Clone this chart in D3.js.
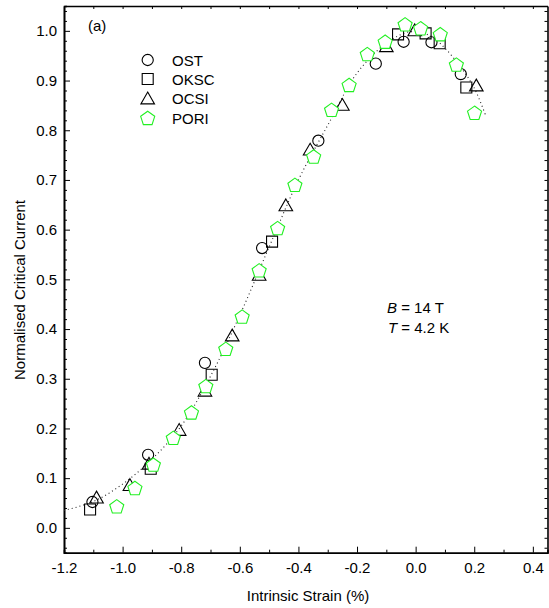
<!DOCTYPE html>
<html>
<head>
<meta charset="utf-8">
<script src="https://cdn.jsdelivr.net/npm/d3@7"></script>
<style>
  body { margin: 0; background: #fff; }
  svg { display: block; font-family: "Liberation Sans", Arial, sans-serif; }
  .axis path, .axis line { stroke: #000; }
  .axis text { font-size: 15px; fill: #000; }
</style>
</head>
<body>
<svg id="chart" width="549" height="608"></svg>
<script>
// values
var ostStrain = [-1.103, -0.913, -0.719, -0.524, -0.332, -0.136, -0.041, 0.054, 0.154];
var ostIc     = [0.052, 0.147, 0.332, 0.563, 0.779, 0.934, 0.978, 0.977, 0.913];

var okscStrain = [-1.111, -0.904, -0.696, -0.490, -0.060, 0.034, 0.082, 0.173];
var okscIc     = [0.037, 0.119, 0.308, 0.576, 0.993, 0.995, 0.975, 0.886];

var ocsiStrain = [-1.089, -0.975, -0.91, -0.807, -0.719, -0.626, -0.534, -0.443, -0.36, -0.25, -0.10, -0.003, 0.207];
var ocsiIc     = [0.062, 0.087, 0.13, 0.198, 0.277, 0.388, 0.510, 0.650, 0.762, 0.852, 0.970, 1.002, 0.891];

var poriStrain = [-1.020, -0.958, -0.895, -0.827, -0.765, -0.716, -0.648, -0.592, -0.534, -0.471, -0.412,
                  -0.348, -0.287, -0.227, -0.165, -0.104, -0.036, 0.017, 0.084, 0.139, 0.201];
var poriIc     = [0.043, 0.080, 0.127, 0.181, 0.232, 0.285, 0.360, 0.425, 0.518, 0.603, 0.690,
                  0.747, 0.841, 0.891, 0.953, 0.978, 1.013, 1.005, 0.993, 0.932, 0.835];

// dotted fit line
var fitStrain = [-1.2, -1.1, -1.0, -0.9, -0.8, -0.7, -0.6, -0.5, -0.4, -0.3, -0.2, -0.1, -0.02, 0.05, 0.1, 0.15, 0.2, 0.24];
var fitIc     = [0.035, 0.053, 0.088, 0.138, 0.205, 0.305, 0.428, 0.565, 0.70, 0.81, 0.915, 0.975, 0.998, 0.99, 0.965, 0.93, 0.885, 0.828];

var xTicks = [-1.2, -1.0, -0.8, -0.6, -0.4, -0.2, 0.0, 0.2, 0.4];
var xMinor = [-1.1, -0.9, -0.7, -0.5, -0.3, -0.1, 0.1, 0.3];
var yTicks = [0.0, 0.1, 0.2, 0.3, 0.4, 0.5, 0.6, 0.7, 0.8, 0.9, 1.0];
var yMinor = d3.range(-2, 53).filter(function(i) { return i % 5 != 0; }).map(function(i) { return i * 0.02; });

var seriesNames = ['OST', 'OKSC', 'OCSI', 'PORI'];

var svg = d3.select('#chart');
var plotL = 64, plotR = 547.5, plotT = 6, plotB = 552.7;

var xScale = d3.scaleLinear().domain([-1.2, 0.45]).range([plotL, plotR]);
var yScale = d3.scaleLinear().domain([-0.05, 1.05]).range([plotB, plotT]);

var fmt = function(d) { return d3.format('.1f')(d).replace('\u2212', '-'); };

// axes, ticks pointing inward
svg.append('g').attr('class', 'axis').attr('transform', 'translate(0,' + plotB + ')')
  .call(d3.axisBottom(xScale).tickValues(xMinor).tickSize(-3).tickFormat(''));
svg.append('g').attr('class', 'axis').attr('transform', 'translate(0,' + plotB + ')')
  .call(d3.axisBottom(xScale).tickValues(xTicks).tickSize(-6).tickSizeOuter(0).tickPadding(10).tickFormat(fmt));
svg.append('g').attr('class', 'axis').attr('transform', 'translate(0,' + plotT + ')')
  .call(d3.axisTop(xScale).tickValues(xTicks.concat(xMinor)).tickSize(-3).tickSizeOuter(0).tickFormat(''));

svg.append('g').attr('class', 'axis').attr('transform', 'translate(' + plotL + ',0)')
  .call(d3.axisLeft(yScale).tickValues(yMinor).tickSize(-3).tickFormat(''));
svg.append('g').attr('class', 'axis').attr('transform', 'translate(' + plotL + ',0)')
  .call(d3.axisLeft(yScale).tickValues(yTicks).tickSize(-6).tickSizeOuter(0).tickPadding(7).tickFormat(fmt));
svg.append('g').attr('class', 'axis').attr('transform', 'translate(' + plotR + ',0)')
  .call(d3.axisRight(yScale).tickValues(yTicks.concat(yMinor)).tickSize(-3).tickSizeOuter(0).tickFormat(''));

svg.selectAll('.axis path').attr('stroke-width', 1.6);

// axis titles
svg.append('text').attr('x', 308).attr('y', 601).attr('text-anchor', 'middle')
  .style('font-size', '15px').text('Intrinsic Strain (%)');
svg.append('text').attr('transform', 'translate(24.5,290) rotate(-90)').attr('text-anchor', 'middle')
  .style('font-size', '15px').text('Normalised Critical Current');

svg.append('text').attr('x', 88).attr('y', 31).style('font-size', '15px').text('(a)');

// fit line
var fitLine = d3.line()
  .x(function(d, i) { return xScale(fitStrain[i]); })
  .y(function(d, i) { return yScale(fitIc[i]); })
  .curve(d3.curveCatmullRom);
svg.append('path').datum(fitStrain).attr('d', fitLine)
  .attr('fill', 'none').attr('stroke', '#222').attr('stroke-width', 1.1)
  .attr('stroke-dasharray', '1,3');

// marker shapes
var triangle = { draw: function(ctx, size) {
  var w = 6.8, h = 5.9;
  ctx.moveTo(0, -h); ctx.lineTo(w, h); ctx.lineTo(-w, h); ctx.closePath();
} };
var pentagon = { draw: function(ctx, size) {
  var r = 7.4;
  for (var k = 0; k < 5; k++) {
    var a = -Math.PI / 2 + k * 2 * Math.PI / 5;
    if (k == 0) ctx.moveTo(r * Math.cos(a), r * Math.sin(a) + 0.6);
    else ctx.lineTo(r * Math.cos(a), r * Math.sin(a) + 0.6);
  }
  ctx.closePath();
} };

var symbols = [
  d3.symbol().type(d3.symbolCircle).size(98),
  d3.symbol().type(d3.symbolSquare).size(121),
  d3.symbol().type(triangle),
  d3.symbol().type(pentagon)
];
var colours = ['#000', '#000', '#000', '#22f022'];
var fills = ['none', 'none', 'none', '#fff'];
var strains = [ostStrain, okscStrain, ocsiStrain, poriStrain];
var values = [ostIc, okscIc, ocsiIc, poriIc];

strains.forEach(function(xs, s) {
  svg.append('g').selectAll('path').data(xs).enter().append('path')
    .attr('d', symbols[s])
    .attr('transform', function(d, i) { return 'translate(' + xScale(d) + ',' + yScale(values[s][i]) + ')'; })
    .attr('fill', fills[s]).attr('stroke', colours[s]).attr('stroke-width', 1.1);
});

// legend
var legendY = [60, 79, 98, 118];
var legend = svg.append('g');
seriesNames.forEach(function(name, s) {
  legend.append('path').attr('d', symbols[s])
    .attr('transform', 'translate(147.7,' + legendY[s] + ')')
    .attr('fill', fills[s]).attr('stroke', colours[s]).attr('stroke-width', 1.1);
  legend.append('text').attr('x', 172).attr('y', legendY[s] + 5.5)
    .style('font-size', '15px').text(name);
});

// conditions
var note = svg.append('g').style('font-size', '15px');
var t1 = note.append('text').attr('x', 387).attr('y', 313);
t1.append('tspan').style('font-style', 'italic').text('B');
t1.append('tspan').text(' = 14 T');
var t2 = note.append('text').attr('x', 388).attr('y', 333);
t2.append('tspan').style('font-style', 'italic').text('T');
t2.append('tspan').text(' = 4.2 K');
</script>
</body>
</html>
